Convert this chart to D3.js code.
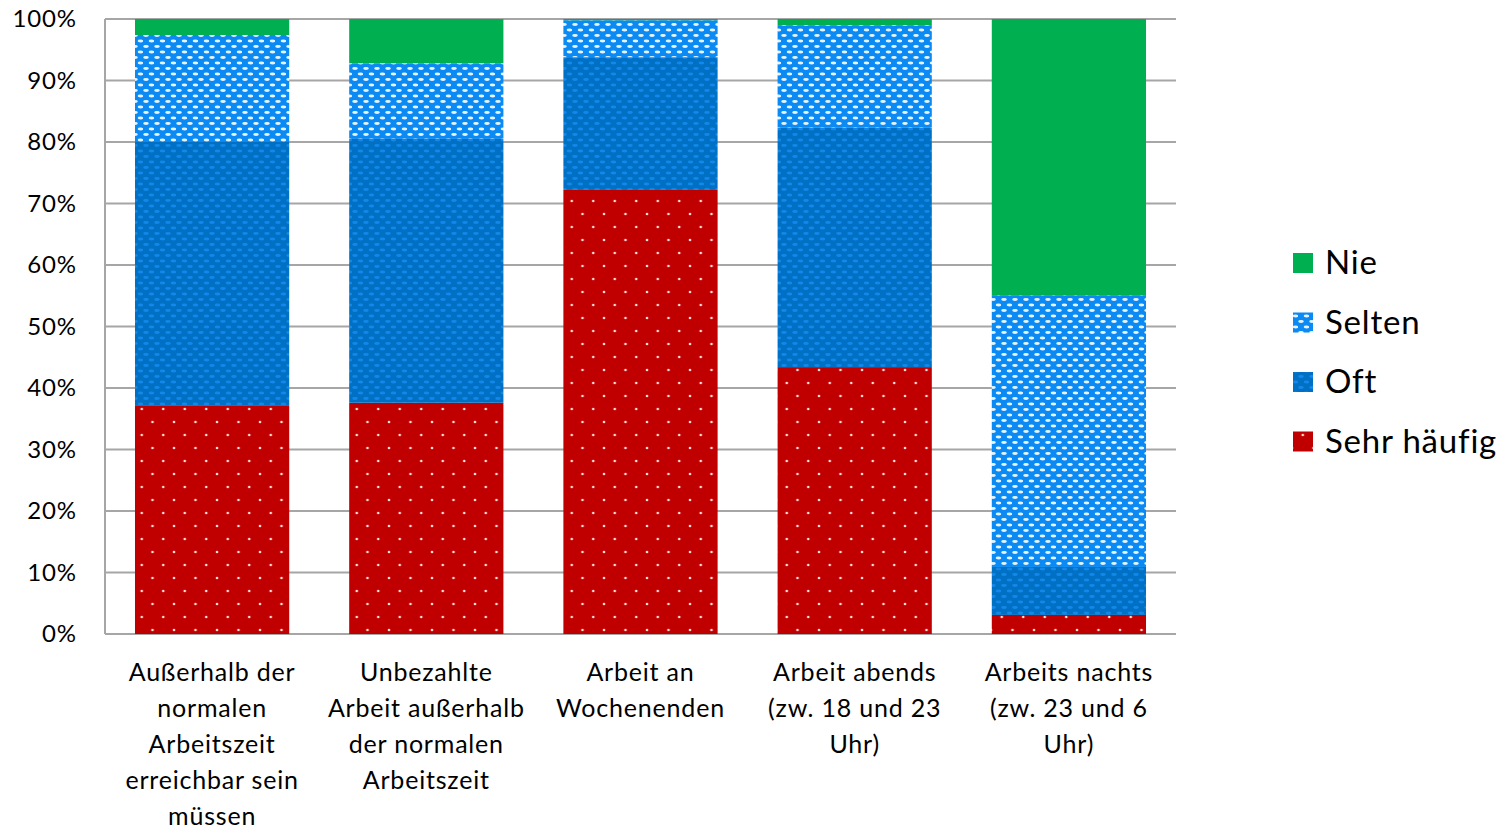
<!DOCTYPE html>
<html>
<head>
<meta charset="utf-8">
<script src="https://cdn.jsdelivr.net/npm/d3@7"></script>
<style>
  html, body { margin: 0; padding: 0; background: #fff; }
  svg { display: block; font-family: Lato, "Open Sans", sans-serif; }
</style>
</head>
<body>
<svg id="chart" width="1503" height="829"></svg>
<script>
// Categories (multi-line labels) and stacked shares in percent
const categories = [
  ["Außerhalb der", "normalen", "Arbeitszeit", "erreichbar sein", "müssen"],
  ["Unbezahlte", "Arbeit außerhalb", "der normalen", "Arbeitszeit"],
  ["Arbeit an", "Wochenenden"],
  ["Arbeit abends", "(zw. 18 und 23", "Uhr)"],
  ["Arbeits nachts", "(zw. 23 und 6", "Uhr)"]
];
const seriesNames = ["Sehr häufig", "Oft", "Selten", "Nie"];
const sehrHaeufig = [37.2, 37.6, 72.2, 43.4, 3.1];
const oft         = [42.8, 42.9, 21.6, 38.9, 7.8];
const selten      = [17.4, 12.3, 6.0, 16.7, 44.2];
const nie         = [2.6, 7.2, 0.2, 1.0, 44.9];
const yTicks = [0, 10, 20, 30, 40, 50, 60, 70, 80, 90, 100];

const svg = d3.select("#chart");
const m = { left: 105, right: 1176, top: 19, bottom: 634 };

// Fill patterns
const defs = svg.append("defs");
function ovalPattern(id, bg, fg) {
  const p = defs.append("pattern").attr("id", id).attr("patternUnits", "userSpaceOnUse")
    .attr("width", 11).attr("height", 11);
  p.append("rect").attr("width", 11).attr("height", 11).attr("fill", bg);
  p.append("ellipse").attr("cx", 3).attr("cy", 2.5).attr("rx", 2.8).attr("ry", 1.4).attr("fill", fg);
  p.append("ellipse").attr("cx", 8.5).attr("cy", 8).attr("rx", 2.8).attr("ry", 1.4).attr("fill", fg);
}
ovalPattern("pSelten", "#0A8AF2", "#E6F4FF");
ovalPattern("pOft", "#0070C4", "#1188EA");
{
  const p = defs.append("pattern").attr("id", "pSehr").attr("patternUnits", "userSpaceOnUse")
    .attr("width", 21.5).attr("height", 26);
  p.append("rect").attr("width", 21.5).attr("height", 26).attr("fill", "#C00000");
  p.append("circle").attr("cx", 2).attr("cy", 6).attr("r", 1.3).attr("fill", "#FFE0E0");
  p.append("circle").attr("cx", 12.75).attr("cy", 19).attr("r", 1.3).attr("fill", "#FFE0E0");
}
const fills = {
  "Sehr häufig": "url(#pSehr)",
  "Oft": "url(#pOft)",
  "Selten": "url(#pSelten)",
  "Nie": "#00B050"
};

const x = d3.scaleBand().domain(d3.range(categories.length))
  .range([m.left, m.right]).paddingInner(0.28).paddingOuter(0.14);
const y = d3.scaleLinear().domain([0, 100]).range([m.bottom, m.top]);

// Gridlines
svg.append("g").selectAll("line").data(yTicks).join("line")
  .attr("x1", m.left).attr("x2", m.right)
  .attr("y1", d => y(d)).attr("y2", d => y(d))
  .attr("stroke", "#A6A6A6").attr("stroke-width", 2);
svg.append("line").attr("x1", m.left).attr("x2", m.left)
  .attr("y1", m.top).attr("y2", m.bottom).attr("stroke", "#A6A6A6").attr("stroke-width", 2);

// Y axis labels
const yAxis = d3.axisLeft(y).tickValues(yTicks).tickFormat(d => d + "%").tickSize(0).tickPadding(28);
const gy = svg.append("g").attr("transform", `translate(${m.left},0)`).call(yAxis);
gy.select(".domain").remove();
gy.selectAll("text").attr("font-size", 24).attr("letter-spacing", 0.9).attr("fill", "#000")
  .attr("font-family", "Lato, sans-serif");

// Stacked bars
const rows = categories.map((c, i) => ({
  i, "Sehr häufig": sehrHaeufig[i], "Oft": oft[i], "Selten": selten[i], "Nie": nie[i]
}));
const stack = d3.stack().keys(seriesNames)(rows);
svg.append("g").selectAll("g").data(stack).join("g")
  .attr("fill", d => fills[d.key])
  .selectAll("rect").data(d => d).join("rect")
  .attr("x", d => x(d.data.i))
  .attr("width", x.bandwidth())
  .attr("y", d => y(d[1]))
  .attr("height", d => y(d[0]) - y(d[1]));

// Category labels
const gx = svg.append("g");
categories.forEach((lines, i) => {
  const t = gx.append("text")
    .attr("x", x(i) + x.bandwidth() / 2)
    .attr("y", 681)
    .attr("text-anchor", "middle")
    .attr("font-size", 25)
    .attr("letter-spacing", 0.8)
    .attr("fill", "#000");
  lines.forEach((ln, k) => {
    t.append("tspan").attr("x", x(i) + x.bandwidth() / 2).attr("dy", k === 0 ? 0 : 36).text(ln);
  });
});

// Legend
const legendOrder = ["Nie", "Selten", "Oft", "Sehr häufig"];
const lg = svg.append("g");
legendOrder.forEach((name, k) => {
  const cy = 263 + k * 59.5;
  lg.append("rect").attr("x", 1293).attr("y", cy - 10).attr("width", 20).attr("height", 20)
    .attr("fill", fills[name]);
  lg.append("text").attr("x", 1325).attr("y", cy + 11).attr("font-size", 33)
    .attr("letter-spacing", 0.8).attr("fill", "#000").text(name);
});
</script>
</body>
</html>
